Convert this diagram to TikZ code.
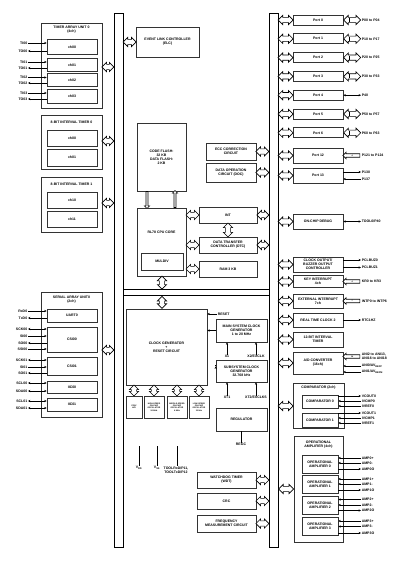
\documentclass[tikz,border=0pt]{standalone}
\usepackage{fontspec}
\setmainfont{Liberation Sans}
\usetikzlibrary{shapes.arrows,arrows.meta,calc}
\newcommand{\ftxt}{\fontsize{3.5}{4.1}\selectfont\bfseries}
\newcommand{\fsml}{\fontsize{2}{2.4}\selectfont\bfseries}
\tikzset{
blk/.style={draw=black!80,line width=0.7pt,fill=white,inner sep=0pt,align=center,font=\ftxt},
bar/.style={draw=black,line width=0.9pt,fill=white,inner sep=0pt},
bio/.style={double arrow,draw=black,line width=0.65pt,fill=white,minimum height=#1,inner sep=2.3pt,double arrow head extend=2pt,double arrow head indent=0pt},
bio/.default=12pt,
bin/.style={single arrow,draw=black,line width=0.65pt,fill=white,minimum height=#1,inner sep=0.7pt,single arrow head extend=1.6pt,font=\fsml,shape border rotate=180},
ttl/.style={font=\ftxt,align=center,inner sep=0pt},
pinl/.style={font=\ftxt,anchor=east,inner sep=0.6pt},
pinr/.style={font=\ftxt,anchor=west,inner sep=0.6pt,align=left},
ln/.style={line width=0.45pt},
ar/.style={ln,-{Stealth[length=2.4pt,width=2.2pt]}},
ra/.style={ln,{Stealth[length=2.4pt,width=2.2pt]}-},
rr/.style={ln,{Stealth[length=2.4pt,width=2.2pt]}-{Stealth[length=2.4pt,width=2.2pt]}}
}
\begin{document}
\begin{tikzpicture}[x=1pt,y=-1pt]
\useasboundingbox [fill=white] (0,0) rectangle (410,561);
% buses
\node [bar,minimum width=9,minimum height=534] (lbus) at (118.5,280) {};
\node [bar,minimum width=9,minimum height=534] (rbus) at (273.5,280) {};
\node [bar,minimum width=146,minimum height=6] (hbus) at (196,292.5) {};
% timer array unit
\node [blk,minimum width=61,minimum height=85] (tau) at (71.5,65.5) {};
\node [ttl] at (71.5,30) {TIMER ARRAY UNIT 0\\(4ch)};
\node [blk,minimum width=50,minimum height=15] (ch00) at (72,47) {ch00};
\node [blk,minimum width=50,minimum height=13] (ch01) at (72,65) {ch01};
\node [blk,minimum width=50,minimum height=13] (ch02) at (72,80) {ch02};
\node [blk,minimum width=50,minimum height=14] (ch03) at (72,96) {ch03};
\node [pinl] (ti00) at (28,43) {TI00};
\node [pinl] (to00) at (28,51) {TO00};
\node [pinl] (ti01) at (28,62) {TI01};
\node [pinl] (to01) at (28,68) {TO01};
\node [pinl] (ti02) at (28,77.5) {TI02};
\node [pinl] (to02) at (28,83) {TO02};
\node [pinl] (ti03) at (28,93) {TI03};
\node [pinl] (to03) at (28,99) {TO03};
\draw [ar] (ti00) -- (ti00 -| ch00.west);
\draw [ra] (to00) -- (to00 -| ch00.west);
\draw [ar] (ti01) -- (ti01 -| ch01.west);
\draw [ra] (to01) -- (to01 -| ch01.west);
\draw [ar] (ti02) -- (ti02 -| ch02.west);
\draw [ra] (to02) -- (to02 -| ch02.west);
\draw [ar] (ti03) -- (ti03 -| ch03.west);
\draw [ra] (to03) -- (to03 -| ch03.west);
% interval timers
\node [blk,minimum width=61,minimum height=54] (it0) at (71.5,142) {};
\node [ttl] at (71.5,122) {8-BIT INTERVAL TIMER 0};
\node [blk,minimum width=50,minimum height=16] (it0a) at (72,138) {ch00};
\node [blk,minimum width=50,minimum height=17] (it0b) at (72,157.5) {ch01};
\node [blk,minimum width=61,minimum height=55] (it1) at (71.5,204.5) {};
\node [ttl] at (71.5,184) {8-BIT INTERVAL TIMER 1};
\node [blk,minimum width=50,minimum height=16] (it1a) at (72,200) {ch10};
\node [blk,minimum width=50,minimum height=16] (it1b) at (72,219) {ch11};
% serial array unit
\node [blk,minimum width=61,minimum height=125] (sau) at (71.5,354.5) {};
\node [ttl] at (71.5,300) {SERIAL ARRAY UNIT0\\(2ch)};
\node [blk,minimum width=50,minimum height=13] (uart0) at (72,315.5) {UART0};
\node [blk,minimum width=50,minimum height=25] (csi00) at (72,339.5) {CSI00};
\node [blk,minimum width=50,minimum height=18] (csi01) at (72,366) {CSI01};
\node [blk,minimum width=50,minimum height=12] (iic00) at (72,387) {IIC00};
\node [blk,minimum width=50,minimum height=13] (iic01) at (72,404.5) {IIC01};
\node [pinl] (rxd0) at (28,311) {RxD0};
\node [pinl] (txd0) at (28,318) {TxD0};
\node [pinl] (sck00) at (28,329) {SCK00};
\node [pinl] (si00) at (28,336) {SI00};
\node [pinl] (so00) at (28,343) {SO00};
\node [pinl] (ssi00) at (28,349) {SSI00};
\node [pinl] (sck01) at (28,360) {SCK01};
\node [pinl] (si01) at (28,367) {SI01};
\node [pinl] (so01) at (28,373) {SO01};
\node [pinl] (scl00) at (28,383) {SCL00};
\node [pinl] (sda00) at (28,391) {SDA00};
\node [pinl] (scl01) at (28,401) {SCL01};
\node [pinl] (sda01) at (28,408) {SDA01};
\draw [ar] (rxd0) -- (rxd0 -| uart0.west);
\draw [ra] (txd0) -- (txd0 -| uart0.west);
\draw [rr] (sck00) -- (sck00 -| csi00.west);
\draw [ar] (si00) -- (si00 -| csi00.west);
\draw [ra] (so00) -- (so00 -| csi00.west);
\draw [ar] (ssi00) -- (ssi00 -| csi00.west);
\draw [rr] (sck01) -- (sck01 -| csi01.west);
\draw [ar] (si01) -- (si01 -| csi01.west);
\draw [ra] (so01) -- (so01 -| csi01.west);
\draw [rr] (scl00) -- (scl00 -| iic00.west);
\draw [rr] (sda00) -- (sda00 -| iic00.west);
\draw [rr] (scl01) -- (scl01 -| iic01.west);
\draw [rr] (sda01) -- (sda01 -| iic01.west);
% left bus links
\path (tau.east |- 0,67) -- (lbus.west |- 0,67) node [midway,bio] {};
\path (it0.east |- 0,141) -- (lbus.west |- 0,141) node [midway,bio] {};
\path (it1.east |- 0,203) -- (lbus.west |- 0,203) node [midway,bio] {};
\path (sau.east |- 0,350) -- (lbus.west |- 0,350) node [midway,bio] {};
% core
\node [blk,minimum width=63,minimum height=30] (elc) at (167.5,42) {EVENT LINK CONTROLLER\\(ELC)};
\path (lbus.east |- elc) -- (elc.west) node [midway,bio=13pt] {};
\node [blk,minimum width=49,minimum height=68] (flash) at (161.5,157) {CODE FLASH:\\32 KB\\DATA FLASH:\\2 KB};
\node [blk,minimum width=49,minimum height=68] (cpu) at (161.5,242) {};
\node [ttl] at (161.5,232) {RL78 CPU CORE};
\node [blk,minimum width=42,minimum height=17] (muldiv) at (162,261.5) {MULDIV};
\path (flash.south -| 147,0) -- (cpu.north -| 147,0) node [midway,bin=17pt,shape border rotate=270] {};
\path (cpu.north -| 175,0) -- (flash.south -| 175,0) node [midway,bin=17pt,shape border rotate=90] {};
\node [blk,minimum width=50,minimum height=17] (ecc) at (231,151.5) {ECC CORRECTION\\CIRCUIT};
\node [blk,minimum width=50,minimum height=19] (doc) at (231,172.5) {DATA OPERATION\\CIRCUIT (DOC)};
\node [blk,minimum width=58,minimum height=16] (int) at (228,215) {INT};
\node [blk,minimum width=58,minimum height=16] (dtc) at (228,245) {DATA TRANSFER\\CONTROLLER (DTC)};
\node [blk,minimum width=58,minimum height=16] (ram) at (228,269) {RAM 3 KB};
\path (ecc.east) -- (ecc -| rbus.west) node [midway,bio=13pt] {};
\path (doc.east) -- (doc -| rbus.west) node [midway,bio=13pt] {};
\path (int.east) -- (int -| rbus.west) node [midway,bio] {};
\path (dtc.east) -- (dtc -| rbus.west) node [midway,bio] {};
\path (cpu.east |- int) -- (int.west) node [midway,bio=13pt] {};
\path (cpu.east |- dtc) -- (dtc.west) node [midway,bio=13pt] {};
\path (cpu.east |- ram) -- (ram.west) node [midway,bio=13pt] {};
\path (int.south) -- (dtc.north) node [midway,bio=14pt,shape border rotate=90] {};
\path (cpu.south -| 162,0) -- (hbus.north -| 162,0) node [midway,bio=13pt,shape border rotate=90] {};
% clock and reset
\node [blk,minimum width=81,minimum height=76] (clk) at (166.5,347) {CLOCK GENERATOR\\+\\RESET CIRCUIT};
\path (hbus.south -| 162,0) -- (clk.north -| 162,0) node [midway,bio=12pt,shape border rotate=90] {};
\node [blk,minimum width=16,minimum height=22,font=\fsml] (por) at (134,407) {POR/\\LVD};
\node [blk,minimum width=20,minimum height=22,font=\fsml] (hoco) at (154,407) {HIGH-SPEED\\ON-CHIP\\OSCILLATOR\\24 MHz};
\node [blk,minimum width=20,minimum height=22,font=\fsml] (moco) at (177,407) {MIDDLE-SPEED\\ON-CHIP\\OSCILLATOR\\4 MHz};
\node [blk,minimum width=20,minimum height=22,font=\fsml] (loco) at (199,407) {LOW-SPEED\\ON-CHIP\\OSCILLATOR\\15 kHz};
\path (clk.south -| por) -- (por.north) node [midway,bio=11pt,shape border rotate=90] {};
\path (clk.south -| hoco) -- (hoco.north) node [midway,bio=11pt,shape border rotate=90] {};
\path (clk.south -| moco) -- (moco.north) node [midway,bio=11pt,shape border rotate=90] {};
\path (clk.south -| loco) -- (loco.north) node [midway,bio=11pt,shape border rotate=90] {};
\node [pinr] (reset) at (217,314) {RESET};
\draw [ar] (reset) -- (reset -| clk.east);
\node [blk,minimum width=51,minimum height=23] (mosc) at (241.5,330.5) {MAIN SYSTEM CLOCK\\GENERATOR\\1 to 20 MHz};
\node [blk,minimum width=51,minimum height=22] (sosc) at (241.5,371) {SUBSYSTEM CLOCK\\GENERATOR\\32.768 kHz};
\draw [ar] (mosc.west) -- (mosc.west -| clk.east);
\draw [ar] ($(sosc.north west)!0.3!(sosc.south west)$) -- ($(sosc.north west)!0.3!(sosc.south west)$ -| clk.east);
\node [ttl] (x1) at (227,356.5) {X1};
\node [ttl] (x2) at (256,356.5) {X2/EXCLK};
\node [ttl] (xt1) at (227,397) {XT1};
\node [ttl] (xt2) at (256,397) {XT2/EXCLKS};
\draw [ar] (x1) -- (x1 |- mosc.south);
\draw [ar] (x2) -- (x2 |- mosc.south);
\draw [ar] (xt1) -- (xt1 |- sosc.south);
\draw [ar] (xt2) -- (xt2 |- sosc.south);
\node [blk,minimum width=51,minimum height=23] (reg) at (241.5,419.5) {REGULATOR};
\node [ttl] (regc) at (241,444) {REGC};
\draw [ln] (reg.south -| regc) -- (regc);
% supply and tool pins
\node [ttl] (vdd) at (139,468) {V\textsubscript{DD}};
\node [ttl] (vss) at (157,468) {V\textsubscript{SS}};
\node [ttl] (tool) at (176,470) {TOOLRxD/P11,\\TOOLTxD/P12};
\coordinate (vddt) at (139,446);
\coordinate (vsst) at (157,446);
\coordinate (toolt) at (177,446);
\draw [ln] (vddt) -- (vdd);
\draw [ln] (vsst) -- (vss);
\draw [ln,line width=0.8pt] (toolt) -- (toolt |- tool.north);
\node [blk,minimum width=59,minimum height=16] (wdt) at (226.5,480) {WATCHDOG TIMER\\(WDT)};
\node [blk,minimum width=59,minimum height=16] (crc) at (226.5,501) {CRC};
\node [blk,minimum width=59,minimum height=17] (fmc) at (226.5,523.5) {FREQUENCY\\MEASUREMENT CIRCUIT};
\path (wdt.east) -- (wdt -| rbus.west) node [midway,bio=13pt] {};
\path (crc.east) -- (crc -| rbus.west) node [midway,bio=13pt] {};
\path (fmc.east) -- (fmc -| rbus.west) node [midway,bio=13pt] {};
% ports
\node [blk,minimum width=50,minimum height=10] (port0) at (318,20) {Port 0};
\node [blk,minimum width=50,minimum height=10] (port1) at (318,38.8) {Port 1};
\node [blk,minimum width=50,minimum height=10] (port2) at (318,57.6) {Port 2};
\node [blk,minimum width=50,minimum height=10] (port3) at (318,76.4) {Port 3};
\node [blk,minimum width=50,minimum height=10] (port4) at (318,95.2) {Port 4};
\node [blk,minimum width=50,minimum height=10] (port5) at (318,114) {Port 5};
\node [blk,minimum width=50,minimum height=10] (port6) at (318,132.8) {Port 6};
\node [blk,minimum width=50,minimum height=15] (port12) at (318,155.5) {Port 12};
\node [blk,minimum width=50,minimum height=15] (port13) at (318,175.5) {Port 13};
\path (rbus.east |- port0) -- (port0.west) node [midway,bio=15pt] {};
\path (rbus.east |- port1) -- (port1.west) node [midway,bio=15pt] {};
\path (rbus.east |- port2) -- (port2.west) node [midway,bio=15pt] {};
\path (rbus.east |- port3) -- (port3.west) node [midway,bio=15pt] {};
\path (rbus.east |- port4) -- (port4.west) node [midway,bio=15pt] {};
\path (rbus.east |- port5) -- (port5.west) node [midway,bio=15pt] {};
\path (rbus.east |- port6) -- (port6.west) node [midway,bio=15pt] {};
\path (rbus.east |- port12) -- (port12.west) node [midway,bio=15pt] {};
\path (rbus.east |- port13) -- (port13.west) node [midway,bio=15pt] {};
\node [pinr] (p0) at (361,20) {P00 to P04};
\node [pinr] (p1) at (361,38.8) {P10 to P17};
\node [pinr] (p2) at (361,57.6) {P20 to P25};
\node [pinr] (p3) at (361,76.4) {P30 to P33};
\node [pinr] (p4) at (361,95.2) {P40};
\node [pinr] (p5) at (361,114) {P50 to P57};
\node [pinr] (p6) at (361,132.8) {P60 to P63};
\node [pinr] (p12) at (361,155.5) {P121 to P124};
\node [pinr] (p130) at (361,172) {P130};
\node [pinr] (p137) at (361,179) {P137};
\path (port0.east) -- (p0.west) node [midway,bio=17pt] (pa0) {};
\path (port1.east) -- (p1.west) node [midway,bio=17pt] (pa1) {};
\path (port2.east) -- (p2.west) node [midway,bio=17pt] (pa2) {};
\path (port3.east) -- (p3.west) node [midway,bio=17pt] (pa3) {};
\path (port5.east) -- (p5.west) node [midway,bio=17pt] (pa5) {};
\path (port6.east) -- (p6.west) node [midway,bio=17pt] (pa6) {};
\draw [line width=0.8pt] ($(pa0.center)+(-3,-2)$) -- ++(0,4);
\draw [line width=0.8pt] ($(pa1.center)+(-3,-2)$) -- ++(0,4);
\draw [line width=0.8pt] ($(pa2.center)+(-3,-2)$) -- ++(0,4);
\draw [line width=0.8pt] ($(pa3.center)+(-3,-2)$) -- ++(0,4);
\draw [line width=0.8pt] ($(pa5.center)+(-3,-2)$) -- ++(0,4);
\draw [line width=0.8pt] ($(pa6.center)+(-3,-2)$) -- ++(0,4);
\draw [rr] (port4.east) -- (p4.west);
\path (port12.east) -- (p12.west) node [midway,bin=17pt] {4};
\draw [ar] (p130 -| port13.east) -- (p130);
\draw [ra] (p137 -| port13.east) -- (p137);
% peripherals right
\node [blk,minimum width=50,minimum height=15] (ocd) at (318,221.5) {ON-CHIP DEBUG};
\node [blk,minimum width=50,minimum height=15] (pclbuz) at (318,264.5) {CLOCK OUTPUT/\\BUZZER OUTPUT\\CONTROLLER};
\node [blk,minimum width=50,minimum height=12] (kr) at (318,281.5) {KEY INTERRUPT\\4ch};
\node [blk,minimum width=50,minimum height=14] (intp) at (318,301) {EXTERNAL INTERRUPT\\7ch};
\node [blk,minimum width=50,minimum height=14] (rtc) at (318,320) {REAL TIME CLOCK 2};
\node [blk,minimum width=50,minimum height=15] (it12) at (318,339.5) {12-BIT INTERVAL\\TIMER};
\node [blk,minimum width=50,minimum height=22] (adc) at (318,363) {A/D CONVERTER\\(16ch)};
\path (rbus.east |- ocd) -- (ocd.west) node [midway,bio=15pt] {};
\path (rbus.east |- pclbuz) -- (pclbuz.west) node [midway,bio=15pt] {};
\path (rbus.east |- kr) -- (kr.west) node [midway,bio=15pt] {};
\path (rbus.east |- intp) -- (intp.west) node [midway,bio=15pt] {};
\path (rbus.east |- rtc) -- (rtc.west) node [midway,bio=15pt] {};
\path (rbus.east |- it12) -- (it12.west) node [midway,bio=15pt] {};
\path (rbus.east |- adc) -- (adc.west) node [midway,bio=15pt] {};
\node [pinr] (tool0) at (361,221.5) {TOOL0/P40};
\node [pinr] (buz0) at (361,260) {PCLBUZ0};
\node [pinr] (buz1) at (361,267.5) {PCLBUZ1};
\node [pinr] (kr0) at (361,281.5) {KR0 to KR3};
\node [pinr] (intp0) at (361,301) {INTP0 to INTP6};
\node [pinr] (rtc1hz) at (361,320) {RTC1HZ};
\node [pinr] (ani) at (361,356.5) {ANI2 to ANI13,\\ANI16 to ANI18};
\node [pinr] (avrefp) at (361,366) {ANI0/AV\textsubscript{REFP}};
\node [pinr] (avrefm) at (361,372) {ANI1/AV\textsubscript{REFM}};
\draw [rr] (ocd.east) -- (tool0.west);
\draw [ar] (buz0 -| pclbuz.east) -- (buz0);
\draw [ar] (buz1 -| pclbuz.east) -- (buz1);
\path (kr.east) -- (kr0.west) node [midway,bin=17pt] {4};
\path (intp.east) -- (intp0.west) node [midway,bin=17pt] {7};
\draw [ar] (rtc.east) -- (rtc1hz.west);
\path (ani.west -| adc.east) -- (ani.west) node [midway,bin=17pt] {14};
\draw [ra] (avrefp -| adc.east) -- (avrefp);
\draw [ra] (avrefm -| adc.east) -- (avrefm);
% comparators
\node [blk,minimum width=51,minimum height=45] (cmp) at (318.5,405.5) {};
\node [ttl] at (318.5,388) {COMPARATOR (2ch)};
\node [blk,minimum width=36,minimum height=13] (cmp0) at (320,401.5) {COMPARATOR 0};
\node [blk,minimum width=36,minimum height=14] (cmp1) at (320,420) {COMPARATOR 1};
\path (rbus.east |- 0,406) -- (cmp.west |- 0,406) node [midway,bio=15pt] {};
\node [pinr] (vcout0) at (361,396) {VCOUT0};
\node [pinr] (ivcmp0) at (361,401) {IVCMP0};
\node [pinr] (ivref0) at (361,406) {IVREF0};
\node [pinr] (vcout1) at (361,413) {VCOUT1};
\node [pinr] (ivcmp1) at (361,418) {IVCMP1};
\node [pinr] (ivref1) at (361,423) {IVREF1};
\draw [ar] (vcout0 -| cmp0.east) -- (vcout0);
\draw [ra] (ivcmp0 -| cmp0.east) -- (ivcmp0);
\draw [ra] (ivref0 -| cmp0.east) -- (ivref0);
\draw [ar] (vcout1 -| cmp1.east) -- (vcout1);
\draw [ra] (ivcmp1 -| cmp1.east) -- (ivcmp1);
\draw [ra] (ivref1 -| cmp1.east) -- (ivref1);
% operational amplifiers
\node [blk,minimum width=49,minimum height=106] (opa) at (318.5,489) {};
\node [ttl] at (318.5,445) {OPERATIONAL\\AMPLIFIER (4ch)};
\node [blk,minimum width=36,minimum height=18] (oa0) at (320,464) {OPERATIONAL\\AMPLIFIER 0};
\node [blk,minimum width=36,minimum height=18] (oa1) at (320,484) {OPERATIONAL\\AMPLIFIER 1};
\node [blk,minimum width=36,minimum height=18] (oa2) at (320,505) {OPERATIONAL\\AMPLIFIER 2};
\node [blk,minimum width=36,minimum height=18] (oa3) at (320,526) {OPERATIONAL\\AMPLIFIER 3};
\path (rbus.east |- 0,489) -- (opa.west |- 0,489) node [midway,bio=15pt] {};
\node [pinr] (amp0p) at (361,458) {AMP0+};
\node [pinr] (amp0m) at (361,463) {AMP0-};
\node [pinr] (amp0o) at (361,469) {AMP0O};
\node [pinr] (amp1p) at (361,479) {AMP1+};
\node [pinr] (amp1m) at (361,484) {AMP1-};
\node [pinr] (amp1o) at (361,490) {AMP1O};
\node [pinr] (amp2p) at (361,499.5) {AMP2+};
\node [pinr] (amp2m) at (361,505) {AMP2-};
\node [pinr] (amp2o) at (361,510.5) {AMP2O};
\node [pinr] (amp3p) at (361,521) {AMP3+};
\node [pinr] (amp3m) at (361,526.5) {AMP3-};
\node [pinr] (amp3o) at (361,533) {AMP3O};
\draw [ra] (amp0p -| oa0.east) -- (amp0p);
\draw [ra] (amp0m -| oa0.east) -- (amp0m);
\draw [ar] (amp0o -| oa0.east) -- (amp0o);
\draw [ra] (amp1p -| oa1.east) -- (amp1p);
\draw [ra] (amp1m -| oa1.east) -- (amp1m);
\draw [ar] (amp1o -| oa1.east) -- (amp1o);
\draw [ra] (amp2p -| oa2.east) -- (amp2p);
\draw [ra] (amp2m -| oa2.east) -- (amp2m);
\draw [ar] (amp2o -| oa2.east) -- (amp2o);
\draw [ra] (amp3p -| oa3.east) -- (amp3p);
\draw [ra] (amp3m -| oa3.east) -- (amp3m);
\draw [ar] (amp3o -| oa3.east) -- (amp3o);
\end{tikzpicture}
\end{document}
